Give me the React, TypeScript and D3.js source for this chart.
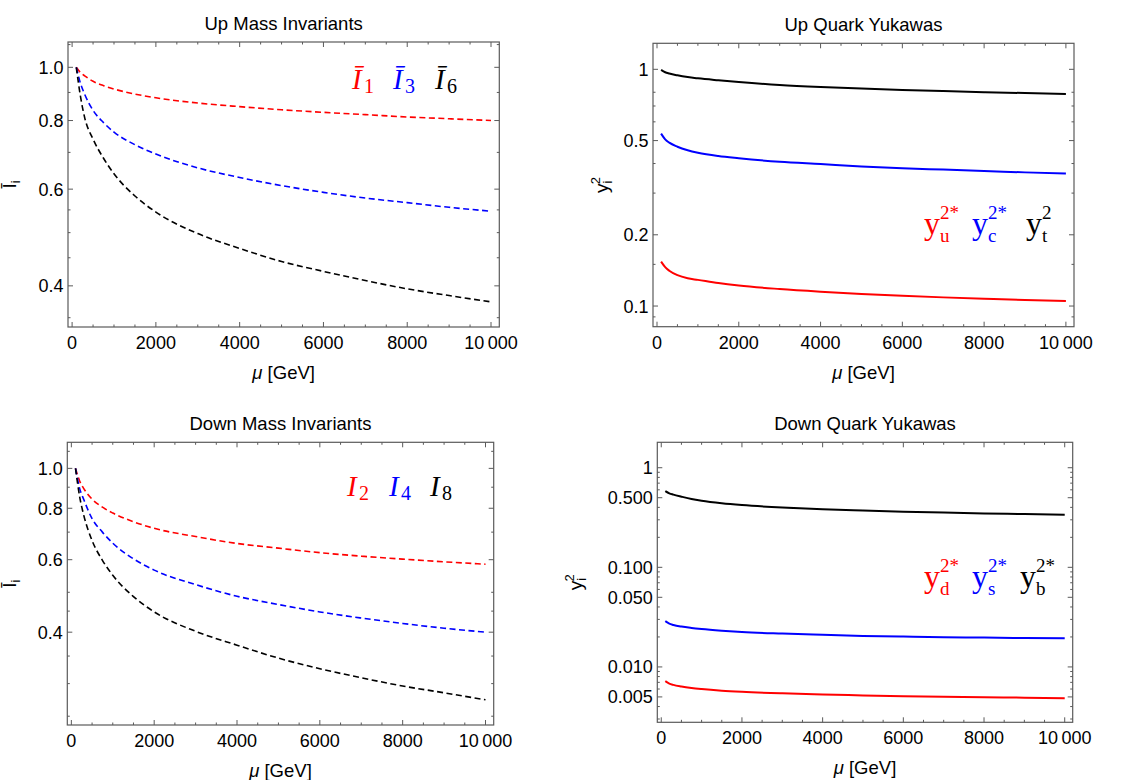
import * as d3 from 'd3';

// values, mu in GeV
const MU = [100, 200, 300, 500, 750, 1000, 1500, 2000, 3000, 4000, 5000, 6000, 7000, 8000, 9000, 10000];

// up mass invariants (dashed)
const I1 = [1.0, 0.978, 0.965, 0.943, 0.926, 0.913, 0.894, 0.88, 0.861, 0.848, 0.837, 0.828, 0.82, 0.812, 0.806, 0.8];
const I3 = [1.0, 0.935, 0.893, 0.835, 0.793, 0.762, 0.723, 0.695, 0.656, 0.63, 0.609, 0.592, 0.578, 0.567, 0.556, 0.547];
const I6 = [1.0, 0.885, 0.81, 0.74, 0.683, 0.64, 0.583, 0.545, 0.498, 0.468, 0.443, 0.425, 0.409, 0.395, 0.384, 0.374];

// down mass invariants (dashed)
const I2 = [1.0, 0.932, 0.893, 0.842, 0.805, 0.779, 0.742, 0.715, 0.683, 0.657, 0.64, 0.624, 0.612, 0.602, 0.593, 0.585];
const I4 = [1.0, 0.894, 0.84, 0.755, 0.7, 0.658, 0.603, 0.566, 0.522, 0.489, 0.467, 0.448, 0.433, 0.42, 0.409, 0.4];
const I8 = [1.0, 0.854, 0.769, 0.668, 0.598, 0.55, 0.488, 0.448, 0.402, 0.372, 0.346, 0.326, 0.31, 0.296, 0.285, 0.274];

// up quark yukawas
const YU2 = [0.154, 0.146, 0.141, 0.135, 0.131, 0.129, 0.125, 0.122, 0.118, 0.115, 0.1125, 0.1105, 0.1088, 0.1073, 0.106, 0.105];
const YC2 = [0.535, 0.506, 0.49, 0.471, 0.455, 0.444, 0.43, 0.421, 0.407, 0.398, 0.389, 0.382, 0.377, 0.372, 0.367, 0.363];
const YT2 = [0.994, 0.972, 0.96, 0.943, 0.927, 0.916, 0.899, 0.884, 0.859, 0.842, 0.829, 0.818, 0.809, 0.801, 0.794, 0.787];

// down quark yukawas
const YD2 = [0.00719, 0.0068, 0.0066, 0.00636, 0.00615, 0.006, 0.00578, 0.00563, 0.00543, 0.00529, 0.00518, 0.00508, 0.00502, 0.00497, 0.00491, 0.00486];
const YS2 = [0.0288, 0.0272, 0.0264, 0.0254, 0.0246, 0.024, 0.0231, 0.0224, 0.0216, 0.021, 0.0205, 0.0202, 0.0199, 0.0197, 0.0195, 0.0194];
const YB2 = [0.583, 0.553, 0.537, 0.512, 0.485, 0.466, 0.44, 0.422, 0.398, 0.382, 0.371, 0.362, 0.355, 0.348, 0.343, 0.338];

// ticks
const X_MAJOR = [0, 2000, 4000, 6000, 8000, 10000];
const X_LABELS = ['0', '2000', '4000', '6000', '8000', '10\u2009000'];
const X_MINOR = [500, 1000, 1500, 2500, 3000, 3500, 4500, 5000, 5500, 6500, 7000, 7500, 8500, 9000, 9500];

const INV_MAJOR = [0.4, 0.6, 0.8, 1.0];
const INV_LABELS = ['0.4', '0.6', '0.8', '1.0'];
const UP_INV_MINOR = [1.1, 0.9, 0.7, 0.55, 0.5, 0.45, 0.35];
const DOWN_INV_MINOR = [1.1, 0.9, 0.7, 0.5, 0.45, 0.35, 0.3, 0.25];

const UP_YUK_MAJOR = [0.1, 0.2, 0.5, 1];
const UP_YUK_LABELS = ['0.1', '0.2', '0.5', '1'];
const UP_YUK_MINOR = [0.09, 0.15, 0.3, 0.4, 0.6, 0.7, 0.8];

const DOWN_YUK_MAJOR = [0.005, 0.01, 0.05, 0.1, 0.5, 1];
const DOWN_YUK_LABELS = ['0.005', '0.010', '0.050', '0.100', '0.500', '1'];
const DOWN_YUK_MINOR = [
  0.003, 0.004, 0.006, 0.007, 0.008, 0.009, 0.02, 0.03, 0.04, 0.06, 0.07, 0.08, 0.09,
  0.2, 0.3, 0.4, 0.6, 0.7, 0.8, 0.9,
];

// layout
const W = 1139;
const H = 780;
const X_DOMAIN = [-98, 10198];
const SANS = '"Liberation Sans", Arial, Helvetica, sans-serif';
const SERIF = '"Liberation Serif", "Times New Roman", serif';
const FRAME = '#5a5a5a';
const TICK_FONT = 18;
const RED = '#ff0000';
const BLUE = '#0000ff';
const BLACK = '#000000';

const PANELS = [
  {
    title: 'Up Mass Invariants',
    left: 68, right: 499.3, top: 42, bottom: 327,
    yDomain: [0.3366, 1.112],
    yMajor: INV_MAJOR, yLabels: INV_LABELS, yMinor: UP_INV_MINOR,
    series: [I1, I3, I6], dashed: true,
    ylabel: 'inv', ylabelX: 16,
    legend: { kind: 'inv', bar: true, y: 89, items: [[352, '1'], [393, '3'], [435, '6']] },
  },
  {
    title: 'Up Quark Yukawas',
    left: 653, right: 1074, top: 43.3, bottom: 326.7,
    yDomain: [0.0818, 1.288],
    yMajor: UP_YUK_MAJOR, yLabels: UP_YUK_LABELS, yMinor: UP_YUK_MINOR,
    series: [YU2, YC2, YT2], dashed: false,
    ylabel: 'yuk', ylabelX: 608,
    legend: { kind: 'yuk', y: 234, items: [[924, 'u', '2*'], [972, 'c', '2*'], [1026, 't', '2']] },
  },
  {
    title: 'Down Mass Invariants',
    left: 67.3, right: 493.7, top: 442.3, bottom: 725,
    yDomain: [0.238, 1.157],
    yMajor: INV_MAJOR, yLabels: INV_LABELS, yMinor: DOWN_INV_MINOR,
    series: [I2, I4, I8], dashed: true,
    ylabel: 'inv', ylabelX: 16,
    legend: { kind: 'inv', bar: false, y: 496, items: [[347, '2'], [389, '4'], [430, '8']] },
  },
  {
    title: 'Down Quark Yukawas',
    left: 657.3, right: 1072.7, top: 442.3, bottom: 722.3,
    yDomain: [0.00278, 1.8],
    yMajor: DOWN_YUK_MAJOR, yLabels: DOWN_YUK_LABELS, yMinor: DOWN_YUK_MINOR,
    series: [YD2, YS2, YB2], dashed: false,
    ylabel: 'yuk', ylabelX: 582,
    legend: { kind: 'yuk', y: 587, items: [[924, 'd', '2*'], [972, 's', '2*'], [1020, 'b', '2*']] },
  },
];

const COLORS = [RED, BLUE, BLACK];

const InvLegend = ({ x, y, sub, bar, color }) => (
  <text x={x} y={y} fill={color} fontFamily={SERIF} fontSize={29}>
    <tspan fontStyle="italic">{bar ? '\u012A' : 'I'}</tspan>
    <tspan x={x + 12} y={y + 4} fontSize={20}>
      {sub}
    </tspan>
  </text>
);

// y with a subscript and a superscript stacked over it
const YukLegend = ({ x, y, sub, sup, color }) => (
  <text x={x} y={y} fill={color} fontFamily={SERIF} fontSize={32}>
    y
    <tspan x={x + 16} y={y + 8} fontSize={19}>
      {sub}
    </tspan>
    <tspan x={x + 16} y={y - 15} fontSize={19}>
      {sup}
    </tspan>
  </text>
);

const Panel = ({ p }) => {
  const x = d3.scaleLinear().domain(X_DOMAIN).range([p.left, p.right]);
  const y = d3.scaleLog().domain(p.yDomain).range([p.bottom, p.top]);
  const line = d3
    .line<number>()
    .x((d, i) => x(MU[i]))
    .y((d) => y(d))
    .curve(d3.curveMonotoneX);

  const cx = (p.left + p.right) / 2;
  const cy = (p.top + p.bottom) / 2;

  return (
    <g>
      <text x={cx} y={p.top - 12} textAnchor="middle" fontFamily={SANS} fontSize={18.5}>
        {p.title}
      </text>

      {p.series.map((s, i) => (
        <path
          key={i}
          d={line(s)}
          fill="none"
          stroke={COLORS[i]}
          strokeWidth={p.dashed ? 1.6 : 2}
          strokeDasharray={p.dashed ? '6,3.5' : null}
        />
      ))}

      <rect
        x={p.left}
        y={p.top}
        width={p.right - p.left}
        height={p.bottom - p.top}
        fill="none"
        stroke={FRAME}
        strokeWidth={1.2}
      />

      {/* x ticks, mirrored on top */}
      {X_MAJOR.map((v, i) => (
        <g key={'xm' + v}>
          <line x1={x(v)} x2={x(v)} y1={p.bottom} y2={p.bottom - 5} stroke={FRAME} />
          <line x1={x(v)} x2={x(v)} y1={p.top} y2={p.top + 5} stroke={FRAME} />
          <text x={x(v)} y={p.bottom + 22} textAnchor="middle" fontFamily={SANS} fontSize={TICK_FONT}>
            {X_LABELS[i]}
          </text>
        </g>
      ))}
      {X_MINOR.map((v) => (
        <g key={'xn' + v}>
          <line x1={x(v)} x2={x(v)} y1={p.bottom} y2={p.bottom - 2.5} stroke={FRAME} />
          <line x1={x(v)} x2={x(v)} y1={p.top} y2={p.top + 2.5} stroke={FRAME} />
        </g>
      ))}

      {/* y ticks, mirrored on the right */}
      {p.yMajor.map((v, i) => (
        <g key={'ym' + v}>
          <line x1={p.left} x2={p.left + 5} y1={y(v)} y2={y(v)} stroke={FRAME} />
          <line x1={p.right} x2={p.right - 5} y1={y(v)} y2={y(v)} stroke={FRAME} />
          <text
            x={p.left - 4.5}
            y={y(v)}
            dy="0.36em"
            textAnchor="end"
            fontFamily={SANS}
            fontSize={TICK_FONT}
          >
            {p.yLabels[i]}
          </text>
        </g>
      ))}
      {p.yMinor.map((v) => (
        <g key={'yn' + v}>
          <line x1={p.left} x2={p.left + 2.5} y1={y(v)} y2={y(v)} stroke={FRAME} />
          <line x1={p.right} x2={p.right - 2.5} y1={y(v)} y2={y(v)} stroke={FRAME} />
        </g>
      ))}

      {/* axis labels */}
      <text x={cx} y={p.bottom + 52} textAnchor="middle" fontFamily={SANS} fontSize={18.5}>
        <tspan fontStyle="italic">μ</tspan> [GeV]
      </text>
      {p.ylabel === 'inv' ? (
        <text
          transform={`translate(${p.ylabelX},${cy}) rotate(-90)`}
          textAnchor="middle"
          fontFamily={SANS}
          fontSize={19}
        >
          {'\u012A'}
          <tspan fontSize={13} dy={4}>
            i
          </tspan>
        </text>
      ) : (
        <text
          transform={`translate(${p.ylabelX},${cy}) rotate(-90)`}
          textAnchor="middle"
          fontFamily={SANS}
          fontSize={19}
        >
          y
          <tspan fontSize={13} dy={4}>
            i
          </tspan>
          <tspan fontSize={13} dx={-3.5} dy={-12}>
            2
          </tspan>
        </text>
      )}

      {/* legend */}
      {p.legend.kind === 'inv'
        ? p.legend.items.map(([lx, sub], i) => (
            <InvLegend key={i} x={lx} y={p.legend.y} sub={sub} bar={p.legend.bar} color={COLORS[i]} />
          ))
        : p.legend.items.map(([lx, sub, sup], i) => (
            <YukLegend key={i} x={lx} y={p.legend.y} sub={sub} sup={sup} color={COLORS[i]} />
          ))}
    </g>
  );
};

export default function App() {
  return (
    <svg
      width={W}
      height={H}
      viewBox={`0 0 ${W} ${H}`}
      style={{ position: 'absolute', left: 0, top: 0, background: '#fff' }}
    >
      <rect width={W} height={H} fill="#fff" />
      {PANELS.map((p) => (
        <Panel key={p.title} p={p} />
      ))}
    </svg>
  );
}
